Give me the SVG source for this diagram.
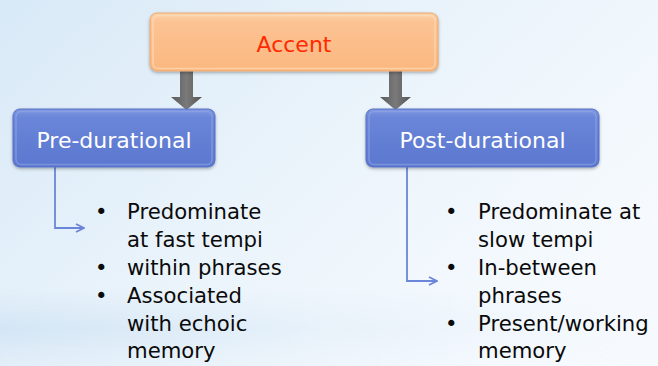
<svg xmlns="http://www.w3.org/2000/svg" width="658" height="366" viewBox="0 0 658 366">
  <defs>
    <linearGradient id="bg" x1="0" y1="0" x2="1" y2="0.6">
      <stop offset="0" stop-color="#d8e9f7"/>
      <stop offset="0.55" stop-color="#ebf4fb"/>
      <stop offset="1" stop-color="#f6fafe"/>
    </linearGradient>
    <linearGradient id="band" x1="0" y1="0" x2="0" y2="1">
      <stop offset="0" stop-color="#cfe3f4" stop-opacity="0"/>
      <stop offset="0.5" stop-color="#cfe3f4" stop-opacity="0.8"/>
      <stop offset="1" stop-color="#cfe3f4" stop-opacity="0.2"/>
    </linearGradient>
    <linearGradient id="bandfade" x1="0" y1="0" x2="1" y2="0">
      <stop offset="0" stop-color="#fff" stop-opacity="1"/>
      <stop offset="0.5" stop-color="#fff" stop-opacity="0.3"/>
      <stop offset="1" stop-color="#fff" stop-opacity="0"/>
    </linearGradient>
    <mask id="bm">
      <rect x="0" y="290" width="658" height="76" fill="url(#bandfade)"/>
    </mask>
    <linearGradient id="orange" x1="0" y1="0" x2="0" y2="1">
      <stop offset="0" stop-color="#fdd3a8"/>
      <stop offset="0.15" stop-color="#fcc393"/>
      <stop offset="1" stop-color="#fbb880"/>
    </linearGradient>
    <linearGradient id="blue" x1="0" y1="0" x2="0" y2="1">
      <stop offset="0" stop-color="#8097e0"/>
      <stop offset="0.15" stop-color="#6a86d9"/>
      <stop offset="1" stop-color="#5b77cf"/>
    </linearGradient>
    <linearGradient id="gray" x1="0" y1="0" x2="1" y2="0">
      <stop offset="0" stop-color="#5a5a5a"/>
      <stop offset="0.5" stop-color="#7a7a7a"/>
      <stop offset="1" stop-color="#555"/>
    </linearGradient>
    <filter id="sh" x="-10%" y="-20%" width="120%" height="150%">
      <feDropShadow dx="0" dy="1.5" stdDeviation="1.5" flood-color="#000" flood-opacity="0.3"/>
    </filter>
    <marker id="ah" viewBox="0 0 10 10" refX="9" refY="5" markerWidth="10" markerHeight="10" markerUnits="userSpaceOnUse" orient="auto">
      <path d="M1,1 L9,5 L1,9" fill="none" stroke="#6b86d8" stroke-width="1.8"/>
    </marker>
    <style>
      .lbl { font-family: "DejaVu Sans", Verdana, sans-serif; font-size: 22px; text-anchor: middle; }
      .blt { font-family: "DejaVu Sans", Verdana, sans-serif; font-size: 21.2px; fill: #0a0a0a; }
      .conn { fill: none; stroke: #6b86d8; stroke-width: 1.8; }
      .garrow { fill: url(#gray); }
    </style>
  </defs>

  <rect x="0" y="0" width="658" height="366" fill="url(#bg)"/>
  <rect x="0" y="290" width="658" height="76" fill="url(#band)" mask="url(#bm)"/>

  <g id="connectors">
    <path class="garrow" d="M180,70 L193,70 L193,97 L202,97 L186.5,110 L171,97 L180,97 Z"/>
    <path class="garrow" d="M389,70 L402,70 L402,97 L411,97 L395.5,110 L380,97 L389,97 Z"/>
    <path class="conn" d="M55,167 L55,228 L84,228" marker-end="url(#ah)"/>
    <path class="conn" d="M407,167 L407,281 L437,281" marker-end="url(#ah)"/>
  </g>

  <g id="accent">
    <rect x="150" y="13" width="288" height="58" rx="7" fill="url(#orange)" stroke="#e9a873" stroke-width="1" filter="url(#sh)"/>
    <rect x="153" y="15.5" width="282" height="53" rx="5" fill="none" stroke="#fde0c2" stroke-opacity="0.6" stroke-width="1.5"/>
    <text class="lbl" x="294" y="52" fill="#ff2a00">Accent</text>
  </g>

  <g id="pre-durational">
    <rect x="13" y="109" width="202" height="58" rx="7" fill="url(#blue)" stroke="#5670c4" stroke-width="1" filter="url(#sh)"/>
    <rect x="16" y="111.5" width="196" height="53" rx="5" fill="none" stroke="#9aaeea" stroke-opacity="0.5" stroke-width="1.5"/>
    <text class="lbl" x="114" y="148" fill="#ffffff">Pre-durational</text>
  </g>

  <g id="post-durational">
    <rect x="366" y="109" width="233" height="58" rx="7" fill="url(#blue)" stroke="#5670c4" stroke-width="1" filter="url(#sh)"/>
    <rect x="369" y="111.5" width="227" height="53" rx="5" fill="none" stroke="#9aaeea" stroke-opacity="0.5" stroke-width="1.5"/>
    <text class="lbl" x="482.5" y="148" fill="#ffffff">Post-durational</text>
  </g>

  <g id="pre-list">
    <text class="blt" x="95" y="219">•</text>
    <text class="blt" x="127" y="219">Predominate</text>
    <text class="blt" x="127" y="247">at fast tempi</text>
    <text class="blt" x="95" y="275">•</text>
    <text class="blt" x="127" y="275">within phrases</text>
    <text class="blt" x="95" y="303">•</text>
    <text class="blt" x="127" y="303">Associated</text>
    <text class="blt" x="127" y="331">with echoic</text>
    <text class="blt" x="127" y="358">memory</text>
  </g>

  <g id="post-list">
    <text class="blt" x="445" y="219">•</text>
    <text class="blt" x="478" y="219">Predominate at</text>
    <text class="blt" x="478" y="247">slow tempi</text>
    <text class="blt" x="445" y="275">•</text>
    <text class="blt" x="478" y="275">In-between</text>
    <text class="blt" x="478" y="303">phrases</text>
    <text class="blt" x="445" y="331">•</text>
    <text class="blt" x="478" y="331">Present/working</text>
    <text class="blt" x="478" y="358">memory</text>
  </g>
</svg>
